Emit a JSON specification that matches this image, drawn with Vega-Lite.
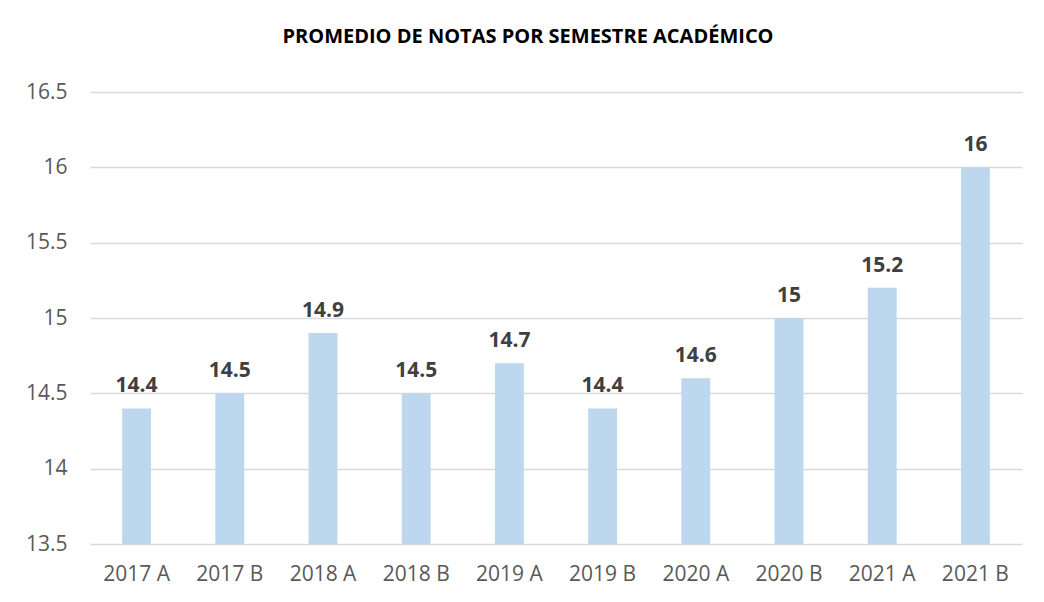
{
  "$schema": "https://vega.github.io/schema/vega-lite/v6.json",
  "autosize": {"type": "none"},
  "width": 932,
  "height": 452,
  "padding": {"left": 90, "top": 92, "right": 22, "bottom": 58},
  "background": "white",
  "title": {
    "text": "PROMEDIO DE NOTAS POR SEMESTRE ACADÉMICO",
    "anchor": "middle",
    "frame": "group",
    "dx": -28,
    "offset": 34,
    "font": "Open Sans",
    "fontSize": 20,
    "fontWeight": "bold",
    "color": "#000000"
  },
  "data": {
    "values": [
      {"semestre": "2017 A", "promedio": 14.4},
      {"semestre": "2017 B", "promedio": 14.5},
      {"semestre": "2018 A", "promedio": 14.9},
      {"semestre": "2018 B", "promedio": 14.5},
      {"semestre": "2019 A", "promedio": 14.7},
      {"semestre": "2019 B", "promedio": 14.4},
      {"semestre": "2020 A", "promedio": 14.6},
      {"semestre": "2020 B", "promedio": 15},
      {"semestre": "2021 A", "promedio": 15.2},
      {"semestre": "2021 B", "promedio": 16}
    ]
  },
  "encoding": {
    "x": {
      "field": "semestre",
      "type": "nominal",
      "sort": null,
      "scale": {"paddingInner": 0.69, "paddingOuter": 0.345},
      "axis": {
        "title": null,
        "labelAngle": 0,
        "ticks": false,
        "domain": false,
        "labelPadding": 19,
        "labelFont": "Open Sans",
        "labelFontSize": 21,
        "labelColor": "#595959"
      }
    },
    "y": {
      "field": "promedio",
      "type": "quantitative",
      "scale": {"domain": [13.5, 16.5], "nice": false, "zero": false},
      "axis": {
        "title": null,
        "values": [13.5, 14, 14.5, 15, 15.5, 16, 16.5],
        "format": "~g",
        "ticks": false,
        "domain": false,
        "labelPadding": 23,
        "labelFont": "Open Sans",
        "labelFontSize": 21,
        "labelColor": "#595959",
        "gridColor": "#D9D9D9",
        "gridWidth": 1.5
      }
    }
  },
  "layer": [
    {"mark": {"type": "bar", "color": "#BDD7EE", "clip": true}},
    {
      "mark": {
        "type": "text",
        "baseline": "alphabetic",
        "dy": -16,
        "font": "Open Sans",
        "fontSize": 21,
        "fontWeight": "bold",
        "color": "#404040"
      },
      "encoding": {"text": {"field": "promedio", "type": "quantitative"}}
    }
  ],
  "config": {"view": {"stroke": null}}
}
